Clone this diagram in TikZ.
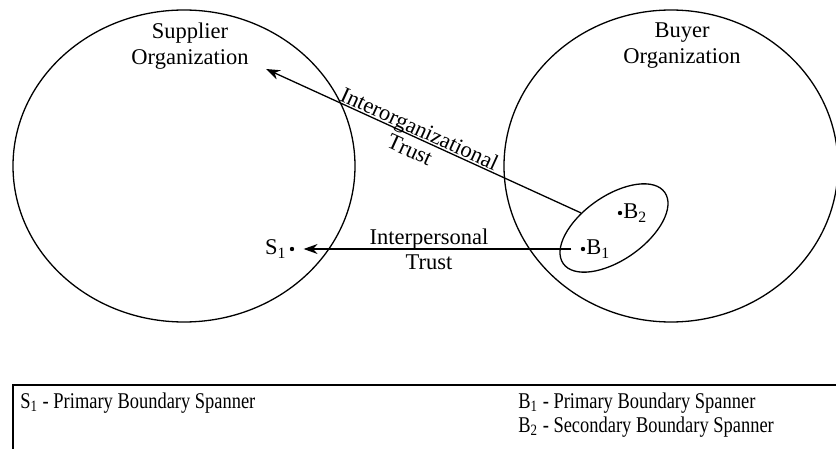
\documentclass[tikz,border=0pt]{standalone}
\usepackage{fontspec}
\setmainfont{Liberation Serif}
\newfontfamily\legendfont[FakeStretch=0.82]{Liberation Serif}
\usetikzlibrary{shapes.geometric,arrows.meta}
\begin{document}
\begin{tikzpicture}[x=0.5pt,y=-0.5pt,
  lbl/.style={font=\fontsize{11.25}{13}\selectfont, align=center, inner sep=0pt},
  org/.style={draw, ellipse, line width=0.65pt, inner sep=0pt},
  dotn/.style={circle, fill, inner sep=0pt, minimum size=2.2pt},
  arr/.style={line width=0.65pt, -{Stealth[length=7pt,width=5pt]}},
  leg/.style={font=\legendfont\fontsize{11.25}{13}\selectfont, anchor=west, inner sep=0pt}]
\useasboundingbox (0,0) rectangle (836,449);
% organizations
\node[org, minimum width=171pt, minimum height=156pt] (sup) at (184,166) {};
\node[org, minimum width=167pt, minimum height=156pt] (buy) at (671,166) {};
\node[lbl] (suplbl) at (190,46) {Supplier\\Organization};
\node[lbl] (buylbl) at (682,46) {Buyer\\Organization};
% boundary spanner team
\node[org, minimum width=62pt, minimum height=32pt, rotate=35] (team) at (614,228) {};
% spanners
\node[dotn] (s1) at (292,249) {};
\node[lbl, anchor=east] (s1lbl) at (287,249) {S\textsubscript{1}};
\node[dotn] (b1) at (583,249) {};
\node[lbl, anchor=west] (b1lbl) at (586,249) {B\textsubscript{1}};
\node[dotn] (b2) at (620,213) {};
\node[lbl, anchor=west] (b2lbl) at (623,213) {B\textsubscript{2}};
\coordinate (orgtip) at (266,69);
% trust arrows
\draw[arr] (team) -- (orgtip)
  node[lbl, pos=0.525, sloped, anchor=base, yshift=1pt] (iolbl) {Interorganizational}
  node[lbl, pos=0.525, sloped, anchor=base, yshift=-10.5pt] (iotrust) {Trust};
\draw[arr, shorten <=4.5pt, shorten >=4.5pt] (b1) -- (s1)
  node[lbl, pos=0.53, anchor=base, yshift=2.5pt] (iplbl) {Interpersonal}
  node[lbl, pos=0.53, anchor=base, yshift=-10.5pt] (iptrust) {Trust};
% legend
\coordinate (legtr) at (836,385);
\coordinate (legtl) at (13,385);
\coordinate (legbl) at (13,449);
\draw[line width=0.6pt] (legtr) -- (legtl) -- (legbl);
\node[leg] (l1) at (20,403) {S\textsubscript{1} - Primary Boundary Spanner};
\node[leg] (l2) at (518,403) {B\textsubscript{1} - Primary Boundary Spanner};
\node[leg] (l3) at (518,427) {B\textsubscript{2} - Secondary Boundary Spanner};
\end{tikzpicture}
\end{document}
